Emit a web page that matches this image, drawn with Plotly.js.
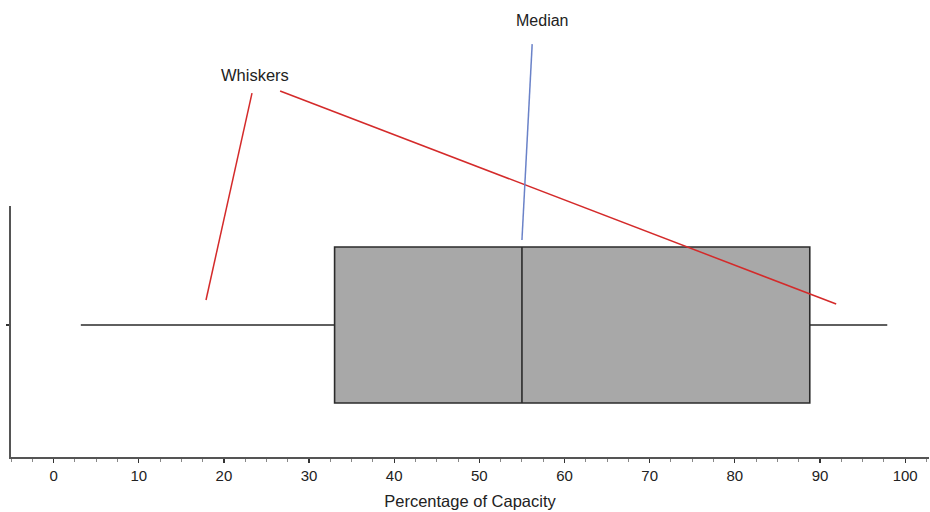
<!DOCTYPE html>
<html>
<head>
<meta charset="utf-8">
<script src="https://cdn.plot.ly/plotly-3.0.1.min.js"></script>
<style>html,body{margin:0;padding:0;background:#fff;}#chart{width:930px;height:512px;}</style>
</head>
<body>
<div id="chart"></div>
<script>
// Data (percentage of capacity summary)
const category = [0];
const lowerWhisker = [3.2];
const q1 = [33];
const median = [55];
const q3 = [88.8];
const upperWhisker = [97.9];
const xTickVals = [0, 10, 20, 30, 40, 50, 60, 70, 80, 90, 100];
const xTickText = ["0", "10", "20", "30", "40", "50", "60", "70", "80", "90", "100"];
const xTitle = "Percentage of Capacity";
const labelWhiskers = "Whiskers";
const labelMedian = "Median";
// pointer line endpoints (x in data units, y in paper units)
const whiskerPtrLeftX = [23.3, 17.9];
const whiskerPtrRightX = [26.6, 91.9];
const medianPtrX = [56.2, 55.0];

const trace = {
  type: 'box',
  orientation: 'h',
  y: category,
  q1: q1,
  median: median,
  q3: q3,
  lowerfence: lowerWhisker,
  upperfence: upperWhisker,
  width: 1,
  whiskerwidth: 0,
  fillcolor: '#a8a8a8',
  line: {color: '#2b2b2b', width: 1.6},
  boxpoints: false,
  hoverinfo: 'skip',
  showlegend: false
};

const layout = {
  width: 930, height: 512,
  margin: {l: 11, r: 1, t: 206, b: 55},
  paper_bgcolor: '#ffffff',
  plot_bgcolor: '#ffffff',
  font: {family: 'Liberation Sans, Arial, sans-serif', size: 14, color: '#222'},
  xaxis: {
    range: [-5, 102.8],
    tickvals: xTickVals,
    ticktext: xTickText,
    ticks: 'outside', ticklen: 4, tickwidth: 1.3, tickcolor: '#333',
    minor: {dtick: 2.5, tick0: 0, ticks: 'outside', ticklen: 3, tickwidth: 1, tickcolor: '#888', showgrid: false},
    showline: true, linecolor: '#555', linewidth: 2,
    showgrid: false, zeroline: false,
    tickfont: {size: 15, color: '#222'},
    title: {text: xTitle, font: {size: 16.5, color: '#222'}, standoff: 12}
  },
  yaxis: {
    range: [-0.846, 0.763],
    tickvals: [0], ticktext: [''],
    ticks: 'outside', ticklen: 3, tickcolor: '#333', tickwidth: 1.5,
    showline: true, linecolor: '#555', linewidth: 2,
    showgrid: false, zeroline: false, fixedrange: true
  },
  shapes: [
    {type: 'line', xref: 'x', yref: 'paper', x0: whiskerPtrLeftX[0], y0: 1.450, x1: whiskerPtrLeftX[1], y1: 0.6255, line: {color: '#d42a2a', width: 1.5}},
    {type: 'line', xref: 'x', yref: 'paper', x0: whiskerPtrRightX[0], y0: 1.458, x1: whiskerPtrRightX[1], y1: 0.6096, line: {color: '#d42a2a', width: 1.5}},
    {type: 'line', xref: 'x', yref: 'paper', x0: medianPtrX[0], y0: 1.645, x1: medianPtrX[1], y1: 0.8645, line: {color: '#6a82c8', width: 1.5}}
  ],
  annotations: [
    {xref: 'x', yref: 'paper', x: 23.7, y: 1.522, text: labelWhiskers, showarrow: false, font: {size: 16.5, color: '#222'}, xanchor: 'center', yanchor: 'middle'},
    {xref: 'x', yref: 'paper', x: 57.4, y: 1.741, text: labelMedian, showarrow: false, font: {size: 16, color: '#222'}, xanchor: 'center', yanchor: 'middle'}
  ]
};

Plotly.newPlot('chart', [trace], layout, {displayModeBar: false, staticPlot: true});
</script>
</body>
</html>
